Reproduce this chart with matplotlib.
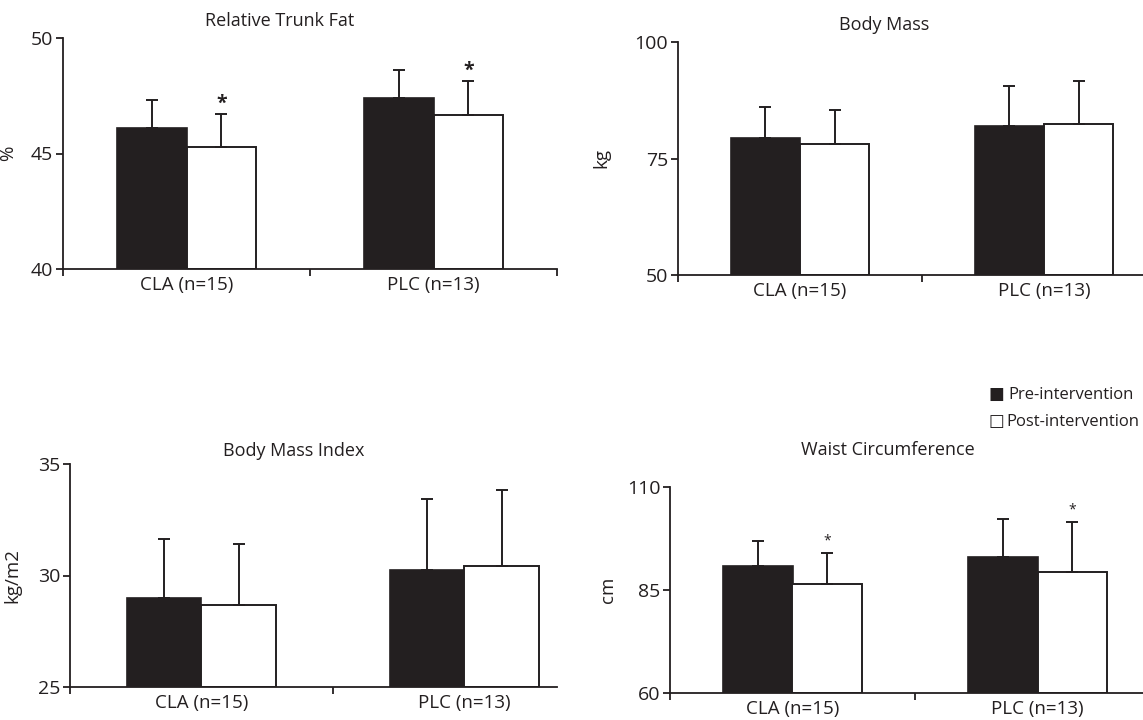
import matplotlib.pyplot as plt

W, H = 1143, 720

groups = ['CLA (n=15)', 'PLC (n=13)']

# values (mean, mean+SD)
trunk_pre = [46.1, 47.4]
trunk_pre_top = [47.3, 48.6]
trunk_post = [45.3, 46.65]
trunk_post_top = [46.7, 48.15]

mass_pre = [79.4, 82.0]
mass_pre_top = [86.1, 90.6]
mass_post = [78.2, 82.45]
mass_post_top = [85.4, 91.7]

bmi_pre = [28.97, 30.25]
bmi_pre_top = [31.64, 33.43]
bmi_post = [28.66, 30.43]
bmi_post_top = [31.43, 33.85]

waist_pre = [90.9, 93.1]
waist_pre_top = [97.0, 102.3]
waist_post = [86.45, 89.4]
waist_post_top = [94.1, 101.6]

plt.rcParams['font.family'] = ['Open Sans', 'DejaVu Sans']

fig = plt.figure(figsize=(W / 100, H / 100), dpi=100)


def make_axes(x0, x1, ytop, ybot):
    return fig.add_axes([x0 / W, 1 - ybot / H, (x1 - x0) / W, (ybot - ytop) / H])


def panel(ax, pre, pre_top, post, post_top, ylim, ylabel, xmax, xticks, stars, star_size, star_weight):
    ax.set_xlim(0, xmax)
    ax.set_ylim(ylim)
    w = 0.283
    xs = [0.5, 1.5]
    pre_err = [t - v for t, v in zip(pre_top, pre)]
    post_err = [t - v for t, v in zip(post_top, post)]
    lo = [0, 0]
    ax.bar([x - w / 2 for x in xs], [v - ylim[0] for v in pre], w, bottom=ylim[0],
           color='#231f20', edgecolor='#231f20', linewidth=1.2,
           yerr=[lo, pre_err], error_kw=dict(ecolor='#231f20', elinewidth=1.4, capsize=4.5, capthick=1.4))
    ax.bar([x + w / 2 for x in xs], [v - ylim[0] for v in post], w, bottom=ylim[0],
           color='white', edgecolor='#231f20', linewidth=1.4,
           yerr=[lo, post_err], error_kw=dict(ecolor='#231f20', elinewidth=1.4, capsize=4.5, capthick=1.4))
    if stars:
        for x, t in zip(xs, post_top):
            ax.annotate('*', (x + w / 2, t), xytext=(0, 0 if star_weight == 'bold' else 3),
                        textcoords='offset points', ha='center', va='bottom',
                        fontsize=star_size, fontweight=star_weight, color='#231f20')
    for s in ['top', 'right']:
        ax.spines[s].set_visible(False)
    for s in ['left', 'bottom']:
        ax.spines[s].set_linewidth(1.3)
        ax.spines[s].set_color('#231f20')
    ax.set_yticks([ylim[0], (ylim[0] + ylim[1]) / 2, ylim[1]])
    ax.set_yticklabels([f'{v:g}' for v in [ylim[0], (ylim[0] + ylim[1]) / 2, ylim[1]]])
    ax.set_xticks(xticks)
    ax.set_xticklabels([])
    ax.set_xticks(xs, minor=True)
    ax.set_xticklabels(groups, minor=True)
    ax.tick_params(axis='x', which='minor', length=0, labelsize=13.5, pad=5, colors='#231f20')
    ax.tick_params(axis='x', which='major', length=5, width=1.3, direction='out', colors='#231f20')
    ax.tick_params(axis='y', length=5, width=1.3, direction='out', labelsize=14, pad=2, colors='#231f20')
    ax.set_ylabel(ylabel, fontsize=13.5, color='#231f20')


ax1 = make_axes(63, 557, 38, 269)
panel(ax1, trunk_pre, trunk_pre_top, trunk_post, trunk_post_top, (40, 50), '%', 2, [0, 1, 2], True, 14, 'bold')
ax1.yaxis.set_label_coords((17 - 63) / 494, 0.5)

ax2 = make_axes(678, 1166, 42, 275)
panel(ax2, mass_pre, mass_pre_top, mass_post, mass_post_top, (50, 100), 'kg', 2, [0, 1, 2], False, 0, 'normal')
ax2.yaxis.set_label_coords((610 - 678) / 488, 0.5)

ax3 = make_axes(70, 557, 464, 687)
panel(ax3, bmi_pre, bmi_pre_top, bmi_post, bmi_post_top, (25, 35), 'kg/m2', 1.852, [0, 1], False, 0, 'normal')
ax3.yaxis.set_label_coords((21 - 70) / 487, 0.5)

ax4 = make_axes(670, 1160, 487, 693)
panel(ax4, waist_pre, waist_pre_top, waist_post, waist_post_top, (60, 110), 'cm', 2, [0, 1, 2], True, 10, 'normal')
ax4.yaxis.set_label_coords((617 - 670) / 490, 0.5)

titles = [('Relative Trunk Fat', 280, 21), ('Body Mass', 884, 25),
          ('Body Mass Index', 294, 451), ('Waist Circumference', 888, 450)]
for t, x, y in titles:
    fig.text(x / W, 1 - y / H, t, ha='center', va='center', fontsize=13, color='#231f20')

# legend
fig.text(988 / W, 1 - 395 / H, '\u25a0', ha='left', va='center', fontsize=12, color='#231f20')
fig.text(1008 / W, 1 - 395 / H, 'Pre-intervention', ha='left', va='center', fontsize=12, color='#231f20')
fig.text(988 / W, 1 - 422 / H, '\u25a1', ha='left', va='center', fontsize=12, color='#231f20')
fig.text(1006 / W, 1 - 422 / H, 'Post-intervention', ha='left', va='center', fontsize=12, color='#231f20')

fig.savefig('out.png', dpi=100)
